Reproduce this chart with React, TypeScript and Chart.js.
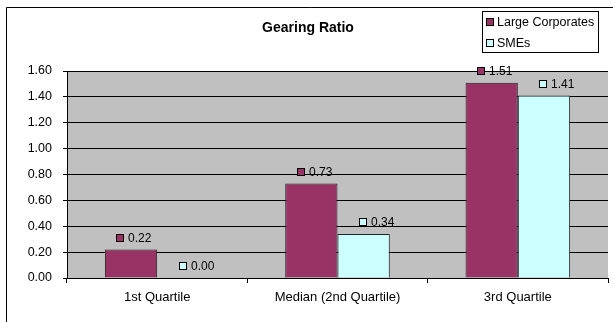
import React, { useEffect, useRef } from "react";
import { Chart, registerables } from "chart.js";

Chart.register(...registerables);

const categories = ["1st Quartile", "Median (2nd Quartile)", "3rd Quartile"];
const largeCorporates = [0.22, 0.73, 1.51];
const smes = [0.0, 0.34, 1.41];
const seriesNames = ["Large Corporates", "SMEs"];
const seriesColors = ["#993366", "#CCFFFF"];
const chartTitle = "Gearing Ratio";

const FONT = "'Liberation Sans', Arial, sans-serif";

const decorPlugin = {
  id: "decor",
  beforeDraw(chart: any) {
    const { ctx, chartArea } = chart;
    ctx.save();
    ctx.fillStyle = "#ffffff";
    ctx.fillRect(0, 0, chart.width, chart.height);
    ctx.fillStyle = "#C0C0C0";
    ctx.fillRect(chartArea.left, chartArea.top, chartArea.right - chartArea.left, chartArea.bottom - chartArea.top);
    ctx.restore();
  },
  afterDraw(chart: any) {
    const { ctx } = chart;
    ctx.save();
    // outer frame
    ctx.strokeStyle = "#000";
    ctx.lineWidth = 1;
    ctx.beginPath();
    ctx.moveTo(6.5, chart.height + 5);
    ctx.lineTo(6.5, 7.5);
    ctx.lineTo(chart.width + 5, 7.5);
    ctx.stroke();

    // title
    ctx.fillStyle = "#000";
    ctx.font = `bold 14px ${FONT}`;
    ctx.textAlign = "center";
    ctx.textBaseline = "middle";
    ctx.fillText(chartTitle, 308, 28);

    // legend
    ctx.fillStyle = "#fff";
    ctx.fillRect(482, 11, 116, 41);
    ctx.strokeStyle = "#000";
    ctx.strokeRect(482.5, 11.5, 116, 41);
    ctx.font = `12.5px ${FONT}`;
    ctx.textAlign = "left";
    const ys = [22, 43];
    seriesNames.forEach((name, i) => {
      ctx.fillStyle = seriesColors[i];
      ctx.fillRect(486, ys[i] - 4, 7, 7);
      ctx.strokeStyle = "#000";
      ctx.strokeRect(486.5, ys[i] - 3.5, 7, 7);
      ctx.fillStyle = "#000";
      ctx.fillText(name, 497, ys[i] + 1);
    });

    // data labels
    const offsets = [3, 13];
    chart.data.datasets.forEach((ds: any, di: number) => {
      const meta = chart.getDatasetMeta(di);
      meta.data.forEach((bar: any, i: number) => {
        const txt = Number(ds.data[i]).toFixed(2);
        ctx.font = `12px ${FONT}`;
        const tw = ctx.measureText(txt).width;
        const total = 8 + 4 + tw;
        const cx = bar.x + offsets[di];
        const left = Math.round(cx - total / 2);
        const cy = Math.round(bar.y - 12);
        ctx.fillStyle = seriesColors[di];
        ctx.fillRect(left, cy - 4, 8, 8);
        ctx.strokeStyle = "#000";
        ctx.strokeRect(left + 0.5, cy - 3.5, 7, 7);
        ctx.fillStyle = "#000";
        ctx.textAlign = "left";
        ctx.textBaseline = "middle";
        ctx.fillText(txt, left + 12, cy + 1);
      });
    });
    ctx.restore();
  },
};

export default function App() {
  const ref = useRef<HTMLCanvasElement>(null);
  useEffect(() => {
    document.body.style.margin = "0";
    const chart = new Chart(ref.current as HTMLCanvasElement, {
      type: "bar",
      data: {
        labels: categories,
        datasets: [
          {
            label: seriesNames[0],
            data: largeCorporates,
            backgroundColor: seriesColors[0],
            borderColor: "#222",
            borderWidth: 1,
            categoryPercentage: 0.58,
            barPercentage: 1.0,
          },
          {
            label: seriesNames[1],
            data: smes,
            backgroundColor: seriesColors[1],
            borderColor: "#222",
            borderWidth: 1,
            categoryPercentage: 0.58,
            barPercentage: 1.0,
          },
        ],
      },
      options: {
        responsive: false,
        animation: false,
        devicePixelRatio: 1,
        layout: { padding: { left: 0, top: 71, right: 5, bottom: 0 } },
        plugins: {
          legend: { display: false },
          title: { display: false },
          tooltip: { enabled: false },
        },
        scales: {
          x: {
            grid: {
              offset: true,
              drawOnChartArea: false,
              color: "#000",
              tickLength: 5,
            },
            border: { color: "#000", width: 1 },
            ticks: {
              color: "#000",
              font: { family: FONT, size: 13 },
              padding: 7,
              maxRotation: 0,
            },
            afterFit(scale: any) {
              scale.height = 44;
            },
          },
          y: {
            min: 0,
            max: 1.6,
            grid: { color: "#000", tickLength: 4, lineWidth: 1 },
            border: { color: "#000", width: 1 },
            ticks: {
              stepSize: 0.2,
              color: "#000",
              font: { family: FONT, size: 12.5 },
              padding: 11,
              callback: (v: any) => Number(v).toFixed(2),
            },
            afterFit(scale: any) {
              scale.width = 67;
            },
          },
        },
      },
      plugins: [decorPlugin],
    });
    return () => chart.destroy();
  }, []);
  return (
    <div style={{ position: "absolute", left: 0, top: 0, width: 613, height: 322 }}>
      <canvas ref={ref} width={613} height={322} style={{ width: 613, height: 322, display: "block" }} />
    </div>
  );
}
